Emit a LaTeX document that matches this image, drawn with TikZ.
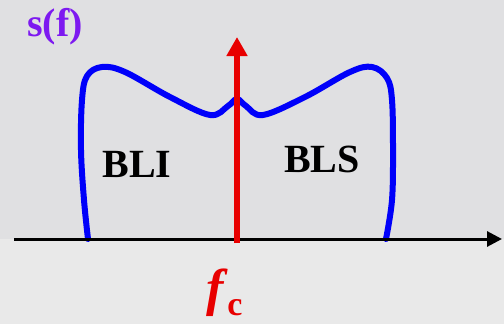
\documentclass[tikz,border=0pt]{standalone}
\usepackage{fontspec}
\setmainfont{Liberation Serif}
\usepackage{xcolor}
\usetikzlibrary{arrows.meta}
\definecolor{bgtop}{RGB}{224,224,226}
\definecolor{bgbot}{RGB}{233,233,233}
\definecolor{specblue}{RGB}{0,0,250}
\definecolor{carred}{RGB}{232,0,0}
\definecolor{sfviolet}{RGB}{125,25,240}
\newcommand{\bigbf}[1]{\bfseries\fontsize{#1}{#1}\selectfont}

\begin{document}
\begin{tikzpicture}[x=1pt,y=-1pt]
\tikzstyle{every node}=[inner sep=0pt,outer sep=0pt]
\tikzstyle{band}=[font=\bigbf{40},text=black]
\useasboundingbox (0,0) rectangle (504,324);
\fill[bgtop] (0,0) rectangle (504,239);
\fill[bgbot] (0,239) rectangle (504,324);
\coordinate (o) at (14,239);
\coordinate (xend) at (502,239);
\coordinate (fbot) at (237,243);
\coordinate (ftop) at (237,37);
\node[font=\bigbf{40},text=sfviolet] (sf) at (55,27) {s(f)};
\node[band] (bli) at (137,164) {BLI};
\node[band] (bls) at (322,159) {BLS};
\node[anchor=base west,text=carred] (fc) at (206,305) {\bigbf{52}\itshape f\kern4pt\raisebox{-10pt}{\bigbf{34}\upshape c}};
\draw[specblue,line width=6pt,line cap=round,line join=round] plot[smooth,tension=0.6] coordinates {(88,239) (84,200) (81,150) (82,100) (87,76) (102,67) (125,72) (170,97) (210,115) (228,106) (237,99) (246,106) (263,115) (305,97) (350,72) (372,67) (387,78) (392,100) (393,150) (392,200) (386,239)};
\draw[line width=3pt,arrows={-Triangle[length=15pt,width=15pt]}] (o) -- (xend);
\draw[carred,line width=6pt,arrows={-Triangle[length=19pt,width=20pt]}] (fbot) -- (ftop);
\end{tikzpicture}
\end{document}
